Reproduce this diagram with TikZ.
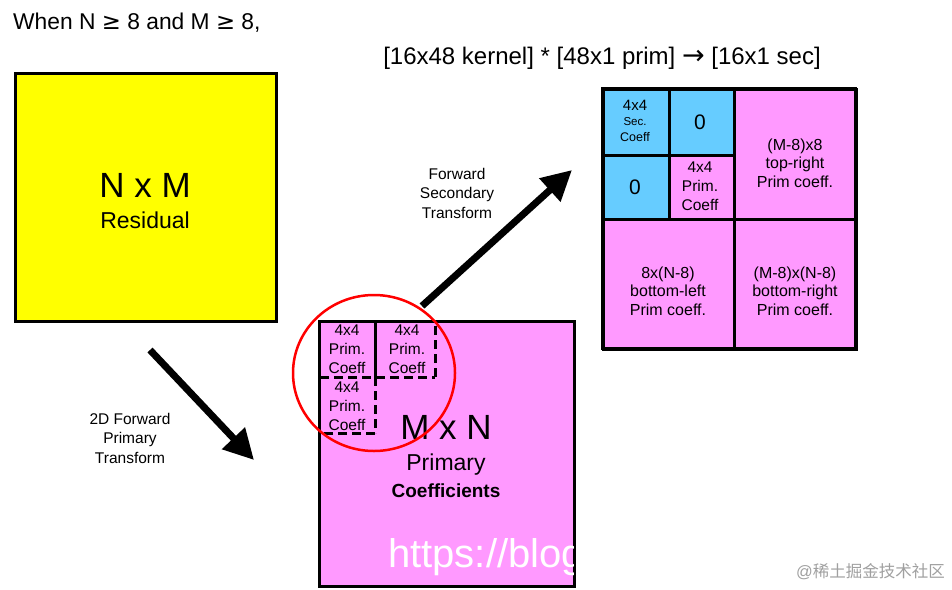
\documentclass[tikz,border=0pt]{standalone}
\usepackage{fontspec}
\setmainfont{Liberation Sans}
\newfontfamily\cjkfont{Noto Sans CJK SC}
\newfontfamily\symfont{DejaVu Sans}
\usetikzlibrary{arrows.meta}
\definecolor{pinkfill}{HTML}{FF99FF}
\definecolor{bluefill}{HTML}{66CCFF}
\definecolor{ylw}{HTML}{FFFF00}
\definecolor{wmgray}{HTML}{A0A0A0}
\newcommand{\fsz}[2]{\fontsize{#1}{#2}\selectfont}
\tikzset{
  box/.style={draw=black, line width=3pt, inner sep=0pt},
  cell/.style={draw=black, line width=3pt, inner sep=0pt},
  bigarrow/.style={line width=7pt, -{Triangle[length=30pt,width=30pt]}},
  lbl/.style={align=center, inner sep=0pt},
  dashline/.style={line width=3pt, dash pattern=on 9pt off 5pt},
  small/.style={lbl, font=\fsz{15.5}{19}},
  gridtxt/.style={lbl, font=\fsz{16}{18.5}},
  arrtxt/.style={lbl, font=\fsz{15.5}{19.5}},
}
\begin{document}
\begin{tikzpicture}[x=1pt,y=-1pt]
\useasboundingbox (0,0) rectangle (952,589);
\fill[white] (0,0) rectangle (952,589);

% title texts
\node[lbl, anchor=west, font=\fsz{22.8}{26}] (title) at (13,23) {When N {\symfont≥} 8 and M {\symfont≥} 8,};
\node[lbl, font=\fsz{24}{26}] (kernel) at (602,58) {[16x48 kernel] * [48x1 prim] {\symfont\fsz{27}{26}→} [16x1 sec]};

% yellow residual box
\node[box, fill=ylw, minimum width=261pt, minimum height=248pt, anchor=north west] (resid) at (14,72) {};
\node[lbl, font=\fsz{35}{40}] (nxm) at (145,185) {N x M};
\node[lbl, font=\fsz{23}{26}] (residtxt) at (145,220) {Residual};

% arrow 1
\coordinate (a1s) at (150,350);
\coordinate (a1e) at (254,460);
\draw[bigarrow] (a1s) -- (a1e);
\node[arrtxt] (a1lbl) at (130,438) {2D Forward\\Primary\\Transform};

% main pink box
\node[box, fill=pinkfill, minimum width=255pt, minimum height=265pt, anchor=north west] (prim) at (318,320) {};
\begin{scope}
\clip (318,320) rectangle (573,585);
\node[lbl, white, anchor=west, font=\fsz{40}{44}] (wm) at (388,557) {https://blog};
\end{scope}
\coordinate (v1t) at (375,320);
\coordinate (v1b) at (375,377);
\draw[line width=3pt] (v1t) -- (v1b);
\coordinate (h1l) at (320,377);
\coordinate (h1r) at (435,377);
\draw[dashline] (h1l) -- (h1r);
\coordinate (v2t) at (435,322);
\draw[dashline] (h1r) -- (v2t);
\coordinate (v3b) at (375,433);
\draw[dashline] (v1b) -- (v3b);
\coordinate (h2l) at (320,433);
\draw[dashline] (v3b) -- (h2l);
\node[small] (c1) at (347,349) {4x4\\Prim.\\Coeff};
\node[small] (c2) at (407,349) {4x4\\Prim.\\Coeff};
\node[small] (c3) at (347,406) {4x4\\Prim.\\Coeff};
\node[lbl, font=\fsz{35}{40}] (mxn) at (446,427) {M x N};
\node[lbl, font=\fsz{23}{26}] (primtxt) at (446,465) {Primary};
\node[lbl, font=\fsz{19}{22}\bfseries] (coefftxt) at (446,491) {Coefficients};

% red circle
\draw[red, line width=2.5pt] (374,373) ellipse [x radius=81, y radius=78];

% arrow 2
\coordinate (a2s) at (422,306);
\coordinate (a2e) at (572,170);
\draw[bigarrow] (a2s) -- (a2e);
\node[arrtxt] (a2lbl) at (457,193) {Forward\\Secondary\\Transform};

% right grid
\node[cell, fill=bluefill, minimum width=66pt, minimum height=66pt, anchor=north west] (g11) at (602,88) {};
\node[cell, fill=bluefill, minimum width=65pt, minimum height=66pt, anchor=north west] (g12) at (668,88) {};
\node[cell, fill=bluefill, minimum width=66pt, minimum height=64pt, anchor=north west] (g21) at (602,154) {};
\node[cell, fill=pinkfill, minimum width=65pt, minimum height=64pt, anchor=north west] (g22) at (668,154) {};
\node[cell, fill=pinkfill, minimum width=122pt, minimum height=130pt, anchor=north west] (gtr) at (733,88) {};
\node[cell, fill=pinkfill, minimum width=131pt, minimum height=130pt, anchor=north west] (gbl) at (602,218) {};
\node[cell, fill=pinkfill, minimum width=122pt, minimum height=130pt, anchor=north west] (gbr) at (733,218) {};
\draw[line width=3pt] (602,88) rectangle (855,348);

\node[lbl, font=\fsz{15}{16}] (t11) at (635,121) {4x4\\[-1pt]{\fsz{11.5}{13}Sec.}\\{\fsz{12.5}{14}Coeff}};
\node[lbl, font=\fsz{21}{24}] (t12) at (700,122) {0};
\node[lbl, font=\fsz{21}{24}] (t21) at (635,187) {0};
\node[small] (t22) at (700,186) {4x4\\Prim.\\Coeff};
\node[gridtxt] (ttr) at (795,163) {(M-8)x8\\top-right\\Prim coeff.};
\node[gridtxt] (tbl) at (668,291) {8x(N-8)\\bottom-left\\Prim coeff.};
\node[gridtxt] (tbr) at (795,291) {(M-8)x(N-8)\\bottom-right\\Prim coeff.};

% watermark
\node[lbl, wmgray, anchor=east, font=\fsz{16.5}{20}] (wm2) at (945,572) {@{\cjkfont 稀土掘金技术社区}};
\end{tikzpicture}
\end{document}
